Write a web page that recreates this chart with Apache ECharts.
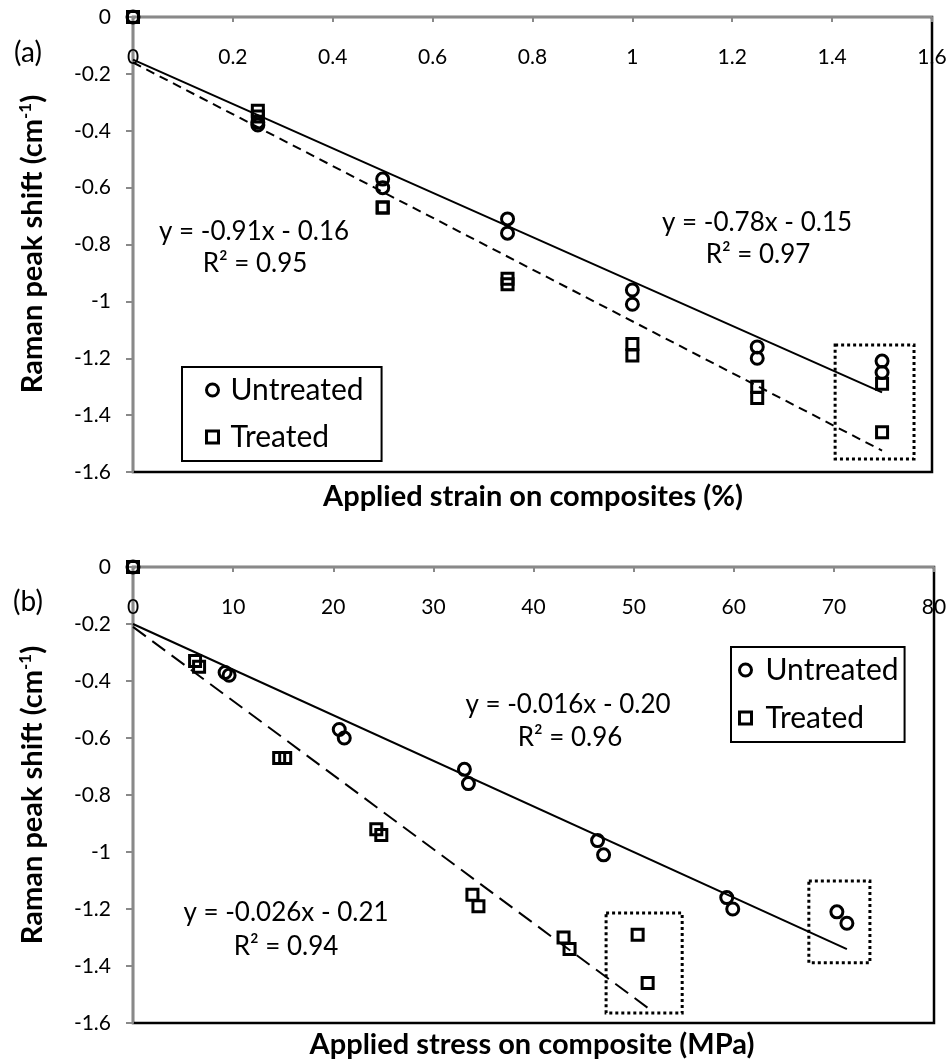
<!DOCTYPE html>
<html>
<head>
<meta charset="utf-8">
<script src="https://cdn.jsdelivr.net/npm/echarts@6/dist/echarts.min.js"></script>
<style>
  html, body { margin: 0; padding: 0; background: #fff; }
  #chart { width: 951px; height: 1063px; }
</style>
</head>
<body>
<div id="chart"></div>
<script>
// Raman peak shift versus applied strain (a) and applied stress (b)
// for untreated and treated fibre composites.

// Raman peak shift (cm-1), same readings for both panels
const shiftUntreated = [0, -0.37, -0.38, -0.57, -0.60, -0.71, -0.76, -0.96, -1.01, -1.16, -1.20, -1.21, -1.25];
const shiftTreated   = [0, -0.33, -0.35, -0.67, -0.67, -0.92, -0.94, -1.15, -1.19, -1.30, -1.34, -1.29, -1.46];

// applied strain (%)
const strainUntreated = [0, 0.25, 0.25, 0.5, 0.5, 0.75, 0.75, 1, 1, 1.25, 1.25, 1.5, 1.5];
const strainTreated   = [0, 0.25, 0.25, 0.5, 0.5, 0.75, 0.75, 1, 1, 1.25, 1.25, 1.5, 1.5];

// applied stress (MPa)
const stressUntreated = [0, 9.2, 9.6, 20.6, 21.1, 33.1, 33.5, 46.4, 47.0, 59.3, 59.9, 70.3, 71.3];
const stressTreated   = [0, 6.2, 6.6, 14.6, 15.2, 24.3, 24.8, 33.9, 34.5, 43.0, 43.6, 50.4, 51.4];

// linear fits: [slope, intercept, R²]
const fitStrainUntreated = [-0.78, -0.15, 0.97];
const fitStrainTreated   = [-0.91, -0.16, 0.95];
const fitStressUntreated = [-0.016, -0.20, 0.96];
const fitStressTreated   = [-0.026, -0.21, 0.94];

// axis ranges: [min, max, interval]
const strainAxis = [0, 1.6, 0.2];
const stressAxis = [0, 80, 10];
const shiftAxis  = [-1.6, 0, 0.2];

// highlighted groups of readings: [[x1, y1], [x2, y2]]
const strainBoxes = [[[1.406, -1.153], [1.564, -1.554]]];
const stressBoxes = [
  [[47.25, -1.214], [54.85, -1.565]],
  [[67.5, -1.102], [73.6, -1.389]]
];

const FONT = 'Lato, Carlito, "Open Sans", sans-serif';
const GRAY = '#898989';
const SQUARE = 'path://M0,0H10V10H0Z';

const pairs = (xs, ys) => xs.map((x, i) => [x, ys[i]]);
const fitLine = (fit, xs) => {
  const xmax = Math.max(...xs);
  return [[0, fit[1]], [xmax, fit[0] * xmax + fit[1]]];
};
const eqText = (fit, digits) =>
  'y = ' + fit[0].toFixed(digits) + 'x - ' + Math.abs(fit[1]).toFixed(2);
const r2Text = fit => 'R\u00B2 = ' + fit[2].toFixed(2);

// the strain/stress axis sits along the zero line at the top of each plot
function xAxisOf(grid, range) {
  return {
    type: 'value', gridIndex: grid, min: range[0], max: range[1], interval: range[2],
    position: 'top',
    axisLine: { show: true, onZero: false, lineStyle: { color: GRAY, width: 2 } },
    axisTick: { show: true, inside: true, length: 5, lineStyle: { color: GRAY, width: 2 } },
    axisLabel: { show: true, inside: true, margin: 30, fontSize: 21, fontFamily: FONT, color: '#000',
                 showMinLabel: true, showMaxLabel: true },
    splitLine: { show: false }
  };
}
function yAxisOf(grid) {
  return {
    type: 'value', gridIndex: grid, min: shiftAxis[0], max: shiftAxis[1], interval: shiftAxis[2],
    position: 'left',
    axisLine: { show: true, onZero: false, lineStyle: { color: GRAY, width: 2 } },
    axisTick: { show: true, length: 7, lineStyle: { color: GRAY, width: 2 } },
    axisLabel: { show: true, margin: 22, fontSize: 21, fontFamily: FONT, color: '#000',
                 showMinLabel: true, showMaxLabel: true },
    splitLine: { show: false }
  };
}

const openMark = { color: 'rgba(0,0,0,0)', borderColor: '#000', borderWidth: 3, opacity: 1 };

function scatter(name, grid, xs, ys, symbol, size) {
  return {
    type: 'scatter', name: name, xAxisIndex: grid, yAxisIndex: grid,
    data: pairs(xs, ys), symbol: symbol, symbolSize: size,
    itemStyle: openMark, z: 5, silent: true
  };
}
function trend(name, grid, fit, xs, dash, boxes) {
  const s = {
    type: 'line', name: name, xAxisIndex: grid, yAxisIndex: grid,
    data: fitLine(fit, xs), symbol: 'none', silent: true, z: 3,
    lineStyle: { color: '#000', width: 2, type: dash }
  };
  if (boxes) {
    s.markArea = {
      silent: true,
      itemStyle: { color: 'rgba(0,0,0,0)', borderColor: '#000', borderWidth: 3, borderType: [3, 3], opacity: 1 },
      data: boxes.map(b => [{ coord: b[0] }, { coord: b[1] }])
    };
  }
  return s;
}

function legendOf(left, top, padding, itemWidth, itemGap) {
  return {
    orient: 'vertical', left: left, top: top, padding: padding,
    itemWidth: itemWidth, itemHeight: 12, itemGap: itemGap,
    borderColor: '#000', borderWidth: 2, backgroundColor: '#fff',
    selectedMode: false,
    textStyle: { fontSize: 30, fontFamily: FONT, color: '#000', lineHeight: 30 },
    data: [
      { name: 'Untreated', icon: 'circle',
        itemStyle: { color: 'rgba(0,0,0,0)', borderColor: '#000', borderWidth: 3, opacity: 1 } },
      { name: 'Treated', icon: SQUARE,
        itemStyle: { color: 'rgba(0,0,0,0)', borderColor: '#000', borderWidth: 3, opacity: 1 } }
    ]
  };
}

function label(x, y, text, size, weight) {
  return {
    type: 'text', x: x, y: y, z: 10,
    style: { text: text, fontSize: size, fontFamily: FONT, fontWeight: weight || 'normal',
             fill: '#000', align: 'center', verticalAlign: 'middle' }
  };
}
function yTitle(x, y) {
  return {
    type: 'text', x: x, y: y, rotation: Math.PI / 2, z: 10,
    style: {
      text: 'Raman peak shift (cm{sup|-1})',
      fontSize: 29, fontFamily: FONT, fontWeight: 'bold', fill: '#000',
      align: 'center', verticalAlign: 'middle', lineHeight: 32,
      rich: { sup: { fontSize: 17, fontFamily: FONT, fontWeight: 'bold', fill: '#000',
                     verticalAlign: 'top', lineHeight: 18 } }
    }
  };
}

const chart = echarts.init(document.getElementById('chart'), null, { renderer: 'canvas' });
chart.setOption({
  animation: false,
  backgroundColor: '#fff',
  grid: [
    { left: 133, top: 17, width: 799, height: 455, show: true, borderColor: '#000',
      borderWidth: 2.5, backgroundColor: 'rgba(0,0,0,0)', containLabel: false, outerBoundsMode: 'none' },
    { left: 133, top: 567, width: 801, height: 456, show: true, borderColor: '#000',
      borderWidth: 2.5, backgroundColor: 'rgba(0,0,0,0)', containLabel: false, outerBoundsMode: 'none' }
  ],
  xAxis: [xAxisOf(0, strainAxis), xAxisOf(1, stressAxis)],
  yAxis: [yAxisOf(0), yAxisOf(1)],
  legend: [
    legendOf(182, 367, [8, 18, 9, 23], 26, 17),
    legendOf(731, 647, [8, 6, 9, 7], 30, 18)
  ],
  series: [
    trend('Untreated fit (a)', 0, fitStrainUntreated, strainUntreated, 'solid'),
    trend('Treated fit (a)', 0, fitStrainTreated, strainTreated, [9, 6], strainBoxes),
    scatter('Untreated', 0, strainUntreated, shiftUntreated, 'circle', 12),
    scatter('Treated', 0, strainTreated, shiftTreated, SQUARE, 11),
    trend('Untreated fit (b)', 1, fitStressUntreated, stressUntreated, 'solid'),
    trend('Treated fit (b)', 1, fitStressTreated, stressTreated, [16, 8], stressBoxes),
    scatter('Untreated', 1, stressUntreated, shiftUntreated, 'circle', 12),
    scatter('Treated', 1, stressTreated, shiftTreated, SQUARE, 11)
  ],
  graphic: [
    label(28, 53, '(a)', 28),
    label(28, 602, '(b)', 28),
    label(254, 232, eqText(fitStrainTreated, 2), 26),
    label(255, 264, r2Text(fitStrainTreated), 26),
    label(757, 223, eqText(fitStrainUntreated, 2), 26),
    label(758, 255, r2Text(fitStrainUntreated), 26),
    label(568, 705, eqText(fitStressUntreated, 3), 26),
    label(570, 738, r2Text(fitStressUntreated), 26),
    label(286, 913, eqText(fitStressTreated, 3), 26),
    label(286, 947, r2Text(fitStressTreated), 26),
    label(533, 497, 'Applied strain on composites (%)', 29, 'bold'),
    label(532, 1045, 'Applied stress on composite (MPa)', 29, 'bold'),
    yTitle(33, 244),
    yTitle(33, 795)
  ]
});
</script>
</body>
</html>
